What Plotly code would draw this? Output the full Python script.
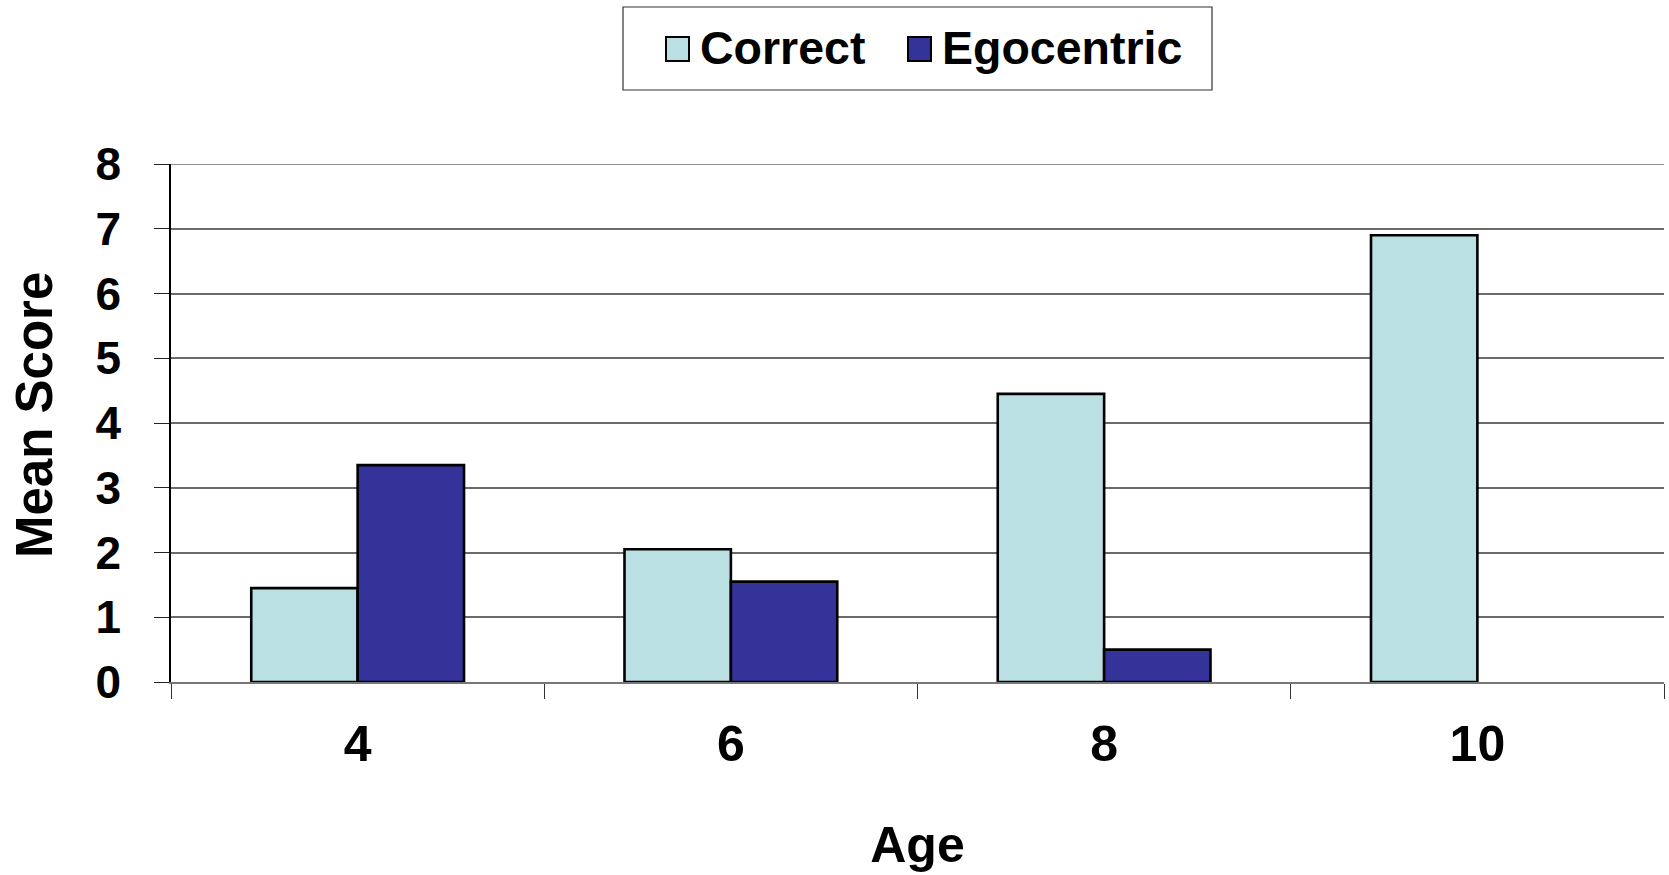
import plotly.graph_objects as go

# Mean scores by age group
ages = ["4", "6", "8", "10"]
correct = [1.45, 2.05, 4.45, 6.9]
egocentric = [3.35, 1.55, 0.5, 0.0]
series_names = ["Correct", "Egocentric"]
series_colors = ["#BBE0E3", "#333399"]
y_ticks = [0, 1, 2, 3, 4, 5, 6, 7, 8]

W, H = 1669, 875
L, R, T, B = 171, 5, 164, 193
PW, PH = W - L - R, H - T - B

FONT = "Liberation Sans, Arial, sans-serif"
GRID = "#6a6a6a"


def px_x(px):
    return (px - L) / PW


def px_y(py):
    return (H - B - py) / PH


fig = go.Figure()
for name, vals, col in zip(series_names, [correct, egocentric], series_colors):
    # no outline on empty (zero) bars
    widths = [2.6 if v > 0 else 0 for v in vals]
    fig.add_trace(go.Bar(
        x=ages, y=vals, name=name, showlegend=False,
        marker=dict(color=col, line=dict(color="black", width=widths)),
    ))

# top gridline at the upper end of the value axis
shapes = [dict(type="line", xref="paper", yref="y", x0=0, x1=1,
               y0=y_ticks[-1], y1=y_ticks[-1], line=dict(color=GRID, width=1.5), layer="below")]

# Legend box drawn as a framed strip above the plot
shapes.append(dict(type="rect", xref="paper", yref="paper",
                   x0=px_x(623), x1=px_x(1212), y0=px_y(90), y1=px_y(7),
                   line=dict(color="#333333", width=1.2), fillcolor="white", layer="above"))
annotations = []
swatch_x = [666, 908]
for sx, name, col in zip(swatch_x, series_names, series_colors):
    shapes.append(dict(type="rect", xref="paper", yref="paper",
                       x0=px_x(sx), x1=px_x(sx + 23), y0=px_y(61), y1=px_y(37),
                       line=dict(color="black", width=2), fillcolor=col, layer="above"))
    annotations.append(dict(xref="paper", yref="paper", x=px_x(sx + 32), y=px_y(48),
                            xanchor="left", yanchor="middle", showarrow=False,
                            text=name, font=dict(size=46.5, color="black", family=FONT, weight="bold")))

# vertical value-axis title
annotations.append(dict(xref="paper", yref="paper", x=px_x(34), y=px_y(415),
                        xanchor="center", yanchor="middle", showarrow=False, textangle=-90,
                        text="Mean Score", font=dict(size=51, color="black", family=FONT, weight="bold")))

fig.update_layout(
    width=W, height=H,
    margin=dict(l=L, r=R, t=T, b=B, autoexpand=False),
    paper_bgcolor="white", plot_bgcolor="white",
    barmode="group", bargap=0.43, bargroupgap=0,
    font=dict(family=FONT, color="black", weight="bold"),
    shapes=shapes, annotations=annotations,
    xaxis=dict(
        type="category", tickson="boundaries", ticks="outside", ticklen=15,
        tickcolor="#333333", tickwidth=1.3,
        showline=True, linecolor="#777777", linewidth=1.5, showgrid=False,
        tickfont=dict(size=50, family=FONT, weight="bold"),
        ticklabelstandoff=17,
        title=dict(text="Age", font=dict(size=50, family=FONT, weight="bold"), standoff=56),
    ),
    yaxis=dict(
        range=[0, 8], tickvals=y_ticks, ticks="outside", ticklen=15,
        tickcolor="#222222", tickwidth=1.3,
        showline=True, linecolor="black", linewidth=1.5,
        showgrid=True, gridcolor=GRID, gridwidth=1.5, zeroline=False,
        tickfont=dict(size=46, family=FONT, weight="bold"),
        ticklabelstandoff=24,
    ),
)

fig.write_html("out.html")
